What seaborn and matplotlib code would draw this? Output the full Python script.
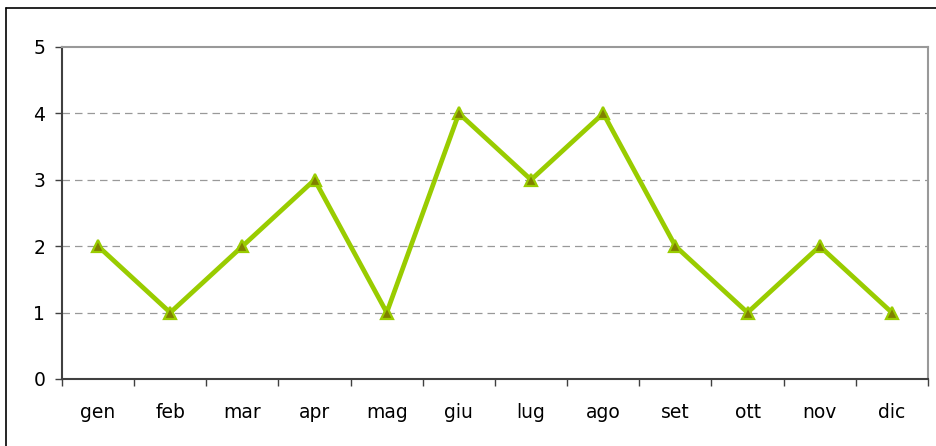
import matplotlib
matplotlib.use("Agg")
import matplotlib.pyplot as plt
from matplotlib.lines import Line2D
import seaborn as sns
import pandas as pd
import numpy as np

months = ["gen", "feb", "mar", "apr", "mag", "giu", "lug", "ago", "set", "ott", "nov", "dic"]
values = [2, 1, 2, 3, 1, 4, 3, 4, 2, 1, 2, 1]
y_ticks = [0, 1, 2, 3, 4, 5]

sns.set_style("white")
plt.rcParams['font.family'] = ['DejaVu Sans']
plt.rcParams['text.color'] = 'black'
plt.rcParams['xtick.color'] = 'black'
plt.rcParams['ytick.color'] = 'black'

df = pd.DataFrame({"month": months, "value": values})
df["pos"] = np.arange(len(months))

fig = plt.figure(figsize=(9.37, 4.46), dpi=100)
ax = fig.add_axes([62/937, 1-379/446, (928-62)/937, (379-47)/446])

sns.lineplot(data=df, x="pos", y="value", ax=ax, color="#99CC00", linewidth=3.4,
             marker="^", markersize=8, markerfacecolor="#808000",
             markeredgecolor="#99CC00", markeredgewidth=1.6, zorder=5)

ax.set_xlim(-0.5, len(months) - 0.5)
ax.set_ylim(0, 5)
ax.set_yticks(y_ticks)
ax.set_yticklabels([str(v) for v in y_ticks], fontsize=13.5, family='DejaVu Sans', color='black')
ax.set_xticks(np.arange(len(months) + 1) - 0.5)
ax.set_xticklabels([])
ax.set_xticks(np.arange(len(months)), minor=True)
ax.set_xticklabels(months, minor=True, fontsize=13.5, family='DejaVu Sans', color='black')
ax.tick_params(axis="x", which="major", direction="out", length=5, width=1, color="#404040", bottom=True)
ax.tick_params(axis="x", which="minor", length=0, pad=17, bottom=True)
ax.tick_params(axis="y", direction="out", length=5, width=1, color="#404040", left=True, pad=7)
ax.set_xlabel("")
ax.set_ylabel("")

for yv in [1, 2, 3, 4]:
    ax.axhline(yv, color="#999999", linestyle=(0, (6, 4)), linewidth=0.9, zorder=1)

ax.spines["left"].set_color("#404040")
ax.spines["bottom"].set_color("#404040")
ax.spines["top"].set_color("#999999")
ax.spines["right"].set_color("#999999")
for s in ax.spines.values():
    s.set_linewidth(1.5)
    s.set_visible(True)

fx = 6.5/937
fy = 1 - 7.5/446
fig.add_artist(Line2D([fx, fx], [0, fy], transform=fig.transFigure, color="black", linewidth=1.2))
fig.add_artist(Line2D([fx, 1], [fy, fy], transform=fig.transFigure, color="black", linewidth=1.2))

fig.savefig("out.png", dpi=100)
